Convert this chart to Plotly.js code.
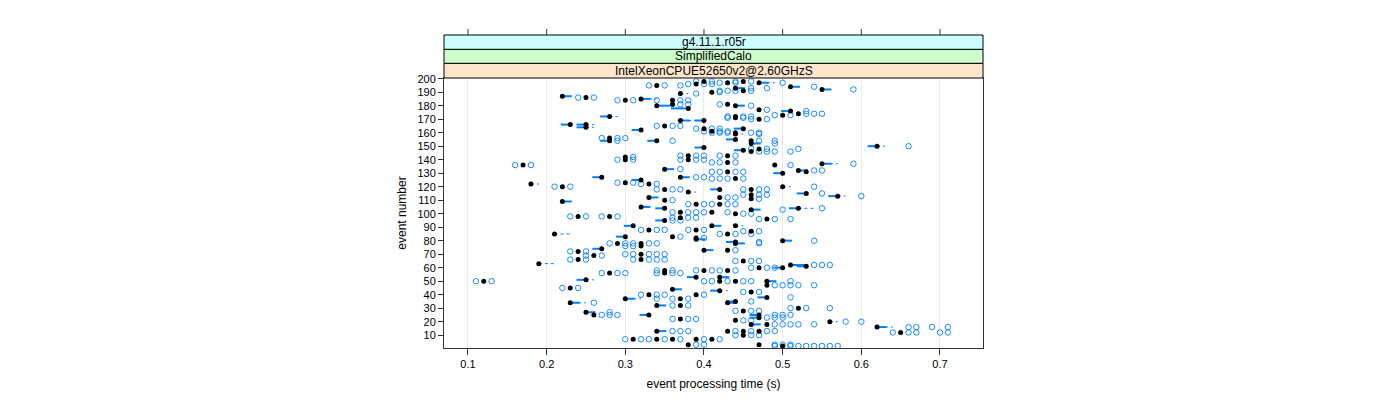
<!DOCTYPE html>
<html><head><meta charset="utf-8">
<script src="https://cdn.plot.ly/plotly-3.0.1.min.js"></script>
<style>html,body{margin:0;padding:0;background:#fff}#chart{width:1400px;height:400px}</style>
</head><body><div id="chart"></div>
<script>
const xTicks = [0.1, 0.2, 0.3, 0.4, 0.5, 0.6, 0.7];
const yTicks = [10, 20, 30, 40, 50, 60, 70, 80, 90, 100, 110, 120, 130, 140, 150, 160, 170, 180, 190, 200];
const stripLabels = ['IntelXeonCPUE52650v2@2.60GHzS', 'SimplifiedCalo', 'g4.11.1.r05r'];
const xTitle = 'event processing time (s)';
const yTitle = 'event number';
const n = null;

// one entry per drawn box (event number)
const evt = [
  198,197,198,197,195,196,194,192,193,191,
  189,187,186,185,184,184,180,181,181,180,
  178,177,176,174,173,172,172,171,169,169,
  166,166,164,165,162,163,163,161,160,159,
  156,154,154,155,154,152,150,149,148,147,
  146,143,143,142,140,140,138,137,136,136,
  133,132,131,130,131,127,127,126,125,123,
  122,122,120,120,118,118,118,116,115,113,
  114,112,112,111,110,109,107,107,105,104,
  104,103,101,101,98,98,96,95,97,91,
  91,91,88,88,85,85,83,83,82,81,
  80,79,78,78,78,76,74,73,73,72,
  69,70,66,66,63,62,61,60,60,58,
  58,58,56,56,53,53,51,50,50,50,
  50,47,45,44,43,40,40,38,37,37,
  35,34,34,32,32,30,27,25,25,25,
  23,22,20,18,18,16,12,13,13,13,
  13,7,7,7,7,7,3,3,2,28,
  21,10,42,65,100,87,170,190
];
// median (black dot)
const med = [
  .40,.43,.45,.47,.34,.39,.51,.55,.44,.45,
  .37,.22,.25,.32,.30,.36,.34,.36,.43,.44,
  .38,.47,.51,.52,.50,.28,.44,.44,.37,.40,
  .23,.25,.25,.35,.32,.40,.45,.41,.44,.44,
  .28,.28,.34,.44,.46,.46,.62,.40,.47,.45,
  .46,.38,.43,.30,.30,.38,.43,.55,.17,.49,
  .35,.52,.53,.50,.43,.27,.37,.44,.32,.30,
  .33,.18,.22,.50,.35,.42,.46,.38,.53,.57,
  .46,.33,.42,.46,.35,.22,.39,.42,.32,.35,
  .52,.46,.37,.41,.24,.28,.48,.35,.37,.31,
  .41,.44,.33,.39,.21,.43,.30,.36,.39,.39,
  .50,.44,.29,.32,.44,.32,.27,.40,.43,.24,
  .26,.32,.24,.32,.19,.51,.53,.50,.47,.40,
  .35,.43,.28,.35,.39,.42,.25,.12,.42,.44,
  .48,.48,.23,.36,.42,.33,.39,.48,.30,.37,
  .44,.23,.43,.34,.37,.52,.25,.26,.33,.47,
  .47,.37,.56,.46,.48,.62,.65,.34,.43,.45,
  .47,.31,.34,.36,.39,.41,.38,.47,.50,.45,
  .44,.45,.46,.45,.44,.46,.47,.41
];
// lower end of the box (null: at the median)
const boxLo = [
  n,n,n,n,n,n,n,n,n,n,
  n,n,n,n,n,n,n,n,n,n,
  .36,n,.50,n,n,.27,n,n,n,.39,
  .22,.24,.24,n,.31,n,.44,n,n,n,
  n,.27,.33,.43,n,n,.61,.39,n,.44,
  n,n,n,n,n,n,n,n,n,n,
  n,n,n,.49,n,.26,n,n,.31,n,
  n,n,n,n,n,.41,n,n,.52,.56,
  n,n,n,n,n,n,n,n,n,.34,
  .51,n,n,n,n,n,n,.34,n,.30,
  n,n,n,n,n,n,.29,n,n,n,
  n,.43,n,n,n,n,.26,n,n,n,
  n,n,n,n,n,n,.52,.49,n,n,
  n,n,n,n,.38,n,.24,n,n,n,
  n,n,n,n,.41,n,n,.47,n,n,
  .43,n,n,n,n,n,n,n,.32,.46,
  .46,n,n,n,n,n,n,n,n,n,
  n,n,n,n,n,n,n,n,n,n,
  n,n,n,n,n,n,n,n
];
// upper end of the box (null: at the median)
const boxHi = [
  n,n,n,.48,n,n,.52,.56,.45,n,
  n,.23,n,.33,n,n,.36,n,n,.45,
  n,n,n,n,n,n,n,n,.38,n,
  n,n,n,n,n,n,n,n,n,n,
  n,n,n,n,n,.47,n,n,n,n,
  n,n,n,n,n,n,n,.56,n,n,
  .36,.53,n,n,n,n,.38,n,n,n,
  n,n,n,n,n,n,n,n,n,n,
  n,.34,n,n,n,.23,n,n,.33,n,
  n,.47,n,n,n,n,n,n,n,n,
  .42,n,n,n,n,n,n,n,n,.40,
  .51,n,n,n,.45,n,n,.41,n,n,
  n,n,n,n,n,.53,n,n,n,n,
  n,n,n,n,n,.43,n,n,n,n,
  .49,n,n,.37,n,n,n,n,.31,n,
  n,.24,.44,.35,n,n,.26,n,n,n,
  n,n,n,.47,n,.63,n,.35,n,n,
  n,n,n,n,n,n,n,n,n,n,
  n,n,n,n,n,n,n,n
];
// upper whisker end (dashed), null: none
const whiskHi = [
  n,n,n,.49,n,n,n,n,n,n,
  .38,n,n,.34,n,n,n,n,n,n,
  n,n,n,n,n,.29,n,n,.39,n,
  n,.26,.26,n,n,n,n,n,n,.45,
  n,n,n,n,n,n,.63,n,n,n,
  n,n,n,n,n,n,n,.57,n,n,
  n,n,n,n,n,n,n,n,n,n,
  n,.19,n,.51,n,n,n,.39,n,.58,
  n,n,n,n,n,n,n,n,n,n,
  .54,n,n,n,n,n,n,n,n,n,
  n,.45,n,n,.23,n,n,n,n,n,
  n,n,n,n,n,n,n,n,n,n,
  n,n,n,n,.21,n,n,n,n,n,
  n,n,n,n,n,n,.26,n,n,n,
  n,n,n,n,.43,n,n,n,.32,n,
  n,.25,n,n,n,n,n,n,n,n,
  n,n,.57,n,n,.64,n,n,n,n,
  n,n,n,n,n,n,n,n,n,n,
  n,n,n,n,n,n,n,n
];
// outlying measurements (open circles)
const outliers = [
  [.39,.41],[.42,.44],[.44,.46],[.50],[.33,.35,.37],[.38,.40,.41],[.54],[.59],[.46,.48],[.42,.43,.44,.46],
  [.39],[],[.24,.26],[],[.29,.31],[.34,.37,.38],[],[.37,.38],[.42],[.46],
  [],[.48],[.53],[.53,.54,.55],[.49,.51],[],[.43,.45,.46],[.43,.45],[],[],
  [],[],[],[.34,.36,.37],[],[.39,.41,.42],[],[.40,.42,.43],[.41,.42,.43,.46,.47],[.47],
  [.27,.29,.30],[.29],[.36],[],[.47,.49],[.49],[.66],[],[.46,.48,.52],[],
  [.47,.48,.49,.51],[.37,.39,.40],[.42,.44],[.31],[.29,.31],[.37,.39,.40],[.41,.42,.44],[.59],[.16,.18],[.51],
  [.37],[.54,.55],[],[],[.41,.42,.44,.45],[],[.39,.40],[.41,.42,.43,.45],[],[.29,.31],
  [.32,.34],[],[.21,.23],[.54],[.34,.36,.37],[],[.45,.47,.48],[],[.55],[.60],
  [.45,.47,.48],[],[.43,.44],[.47],[.36],[],[.38,.40,.41],[.43,.44],[],[],
  [.55],[.50],[.36,.38,.39],[.40,.43],[.23,.25],[.27,.29],[.47,.49,.51],[.36,.37],[.36,.38,.39],[],
  [],[],[.32,.34,.35],[.38,.40],[],[.42,.44,.46],[],[.37],[.40],[],
  [.54],[.47],[.28,.30,.31],[.33,.34],[.47],[.30,.31],[],[],[.44],[.23,.25],
  [.25,.27],[.30,.31,.33,.34,.35],[.23,.25],[.31,.33,.34,.35],[],[.54,.55,.56],[],[],[.46,.48,.49],[.39,.41,.42],
  [.34,.36],[.44],[.27,.29,.30],[.34,.36,.37],[],[],[],[.11,.13],[.40,.41,.43],[.45,.46],
  [.51],[.49,.50,.51,.52,.54],[.22,.24],[],[],[.32,.34,.35],[.40],[.51],[],[.34,.36,.38],
  [.46],[.26],[],[],[.36,.38],[.51,.53,.56],[.28],[.27,.28,.29],[],[.49,.50,.51],
  [.48,.49,.50],[.36,.38,.39],[.58,.60],[],[.49,.50,.51,.52,.54],[.66,.67,.69,.71],[.64,.66,.67,.70,.71],[.36,.37,.38],[.44],[.46],
  [.48,.49],[.30,.32,.33],[.35],[.37],[.40],[.42],[.39,.40],[.49,.50,.51],[.49,.51,.52,.53,.54,.55,.56,.57],[.44,.46,.47],
  [.45,.46],[.44,.46,.47],[.45,.47],[.44,.46,.47],[.45,.46],[.45,.47],[.46,.48],[.42]
];

// ---- build traces ----
const BLUE = '#0080ff';
const boxX = [], boxY = [], whX = [], whY = [], outX = [], outY = [];
for (let i = 0; i < evt.length; i++) {
  const lo = boxLo[i] == null ? med[i] : boxLo[i];
  const hi = boxHi[i] == null ? med[i] : boxHi[i];
  boxX.push(lo - 0.002, hi + 0.002, null); boxY.push(evt[i], evt[i], null);
  if (whiskHi[i] != null) { whX.push(hi, whiskHi[i], null); whY.push(evt[i], evt[i], null); }
  (outliers[i] || []).forEach(v => { outX.push(v); outY.push(evt[i]); });
}
const traces = [
  {type:'scatter', mode:'lines', x:whX, y:whY, line:{color:BLUE, width:1, dash:'3px,3px'}, hoverinfo:'skip'},
  {type:'scatter', mode:'lines', x:boxX, y:boxY, line:{color:BLUE, width:2}, hoverinfo:'skip'},
  {type:'scatter', mode:'markers', x:outX, y:outY, marker:{symbol:'circle-open', size:5.5, color:BLUE, opacity:0.9, line:{width:1, color:BLUE}}},
  {type:'scatter', mode:'markers', x:med, y:evt, marker:{symbol:'circle', size:5, color:'#000'}}
];

const FONT = 'Liberation Sans Narrow, Liberation Sans, Arial, sans-serif';
const yTop = 270/319;
const stripEdges = [yTop, 0.89248, 0.93636, 0.98119];
const stripColors = ['#ffe5cc', '#ccffcc', '#ccffff'];
const shapes = [];
const annotations = [];
stripLabels.forEach((s, k) => {
  shapes.push({type:'rect', xref:'paper', yref:'paper', x0:0, x1:1, y0:stripEdges[k], y1:stripEdges[k+1],
    fillcolor:stripColors[k], line:{color:'#000', width:1}, layer:'above'});
  annotations.push({xref:'paper', yref:'paper', x:0.5, y:(stripEdges[k]+stripEdges[k+1])/2, text:s,
    showarrow:false, xanchor:'center', yanchor:'middle', font:{family:FONT, size:12, color:'#000'}});
});
xTicks.forEach(v => shapes.push({type:'line', xref:'x', yref:'paper', x0:v, x1:v, y0:stripEdges[3], y1:1,
  line:{color:'#333', width:1}}));

const layout = {
  width:1400, height:400,
  margin:{l:444, r:417, t:29, b:52, pad:0},
  paper_bgcolor:'#fff', plot_bgcolor:'#fff',
  font:{family:FONT, size:11, color:'#000'},
  showlegend:false,
  xaxis:{range:[0.0695, 0.7547], tickvals:xTicks, ticktext:xTicks.map(v => v.toFixed(1)),
    ticks:'outside', ticklen:6, tickcolor:'#333', showline:true, linecolor:'#333', linewidth:1, mirror:true,
    showgrid:true, gridcolor:'#ebebeb', gridwidth:1, zeroline:false,
    tickfont:{family:FONT, size:11}, title:{text:xTitle, font:{family:FONT, size:12}, standoff:10}},
  yaxis:{domain:[0, yTop], range:[0.5, 200.5], tickvals:yTicks, ticktext:yTicks.map(String),
    ticks:'outside', ticklen:5, tickcolor:'#333', showline:true, linecolor:'#333', linewidth:1, mirror:true,
    showgrid:false, zeroline:false,
    tickfont:{family:FONT, size:11}, title:{text:yTitle, font:{family:FONT, size:12}, standoff:8}},
  shapes, annotations
};
Plotly.newPlot('chart', traces, layout, {staticPlot:true, displayModeBar:false});
</script>
</body></html>
